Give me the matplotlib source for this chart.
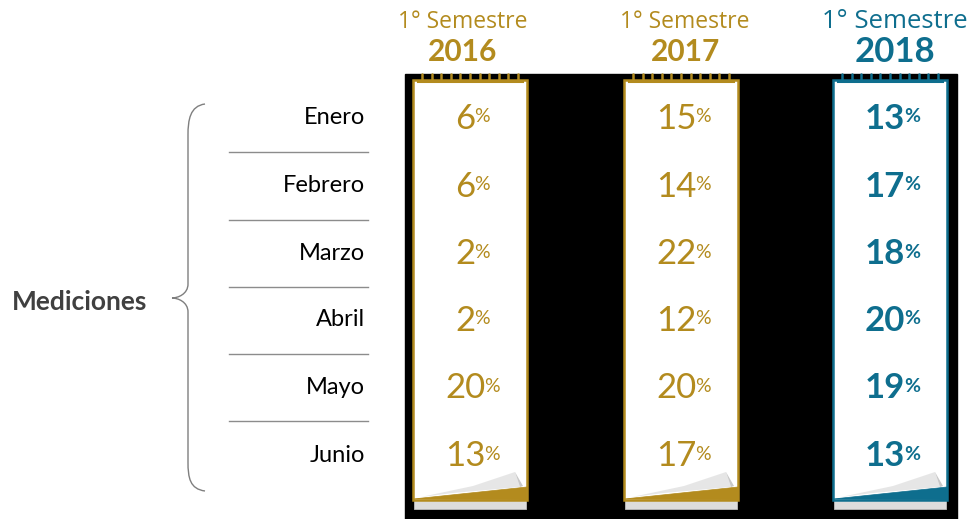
import matplotlib
matplotlib.use("Agg")
import matplotlib.pyplot as plt
from matplotlib.patches import Rectangle, Polygon, PathPatch
from matplotlib.path import Path
import numpy as np

# Datos
meses = ["Enero", "Febrero", "Marzo", "Abril", "Mayo", "Junio"]
anios = ["2016", "2017", "2018"]
valores_2016 = [6, 6, 2, 2, 20, 13]
valores_2017 = [15, 14, 22, 12, 20, 17]
valores_2018 = [13, 17, 18, 20, 19, 13]
valores = [valores_2016, valores_2017, valores_2018]
titulo_grupo = "Mediciones"
subtitulo = "1° Semestre"

# Colores
dorado = "#B38B1E"
azul = "#0E6E8E"
colores = [dorado, dorado, azul]
negritas = [False, False, True]

W, H = 971, 519
fig = plt.figure(figsize=(W / 100, H / 100), dpi=100)
ax = fig.add_axes([0, 0, 1, 1])
ax.set_xlim(0, W)
ax.set_ylim(H, 0)
ax.axis("off")

fuente = "Lato"

# Geometria (pixeles)
filas_y = [118, 186, 253, 320, 387, 455]
centros_x = [470, 681, 890]
desplaz_titulo = [-7, 4, 5]
tam_sub = [16.5, 16.5, 18.5]
tam_anio = [21.5, 21.5, 25]
ancho_hoja = 114
top_hoja, bot_hoja = 80, 500

# Fondo negro detras de las hojas
ax.add_patch(Rectangle((405, 74), 552, H - 74, color="black", zorder=0))

# Etiquetas de meses y separadores
for i, (m, y) in enumerate(zip(meses, filas_y)):
    ax.text(365, y, m, ha="right", va="center", fontsize=17,
            family=fuente, color="black")
    if i < len(meses) - 1:
        ys = (filas_y[i] + filas_y[i + 1]) / 2
        ax.plot([229, 368], [ys, ys], color="#8c8c8c", lw=1)

# Llave
bx, tip_x, tip_y = 188, 172, 298
verts = [(205, 104), (190, 106), (bx, 120), (bx, 135),
         (bx, tip_y - 14),
         (bx, tip_y - 4), (tip_x + 6, tip_y), (tip_x, tip_y),
         (tip_x + 6, tip_y), (bx, tip_y + 4), (bx, tip_y + 14),
         (bx, 462),
         (bx, 478), (190, 489), (205, 491)]
codes = [Path.MOVETO, Path.CURVE4, Path.CURVE4, Path.CURVE4,
         Path.LINETO,
         Path.CURVE4, Path.CURVE4, Path.CURVE4,
         Path.CURVE4, Path.CURVE4, Path.CURVE4,
         Path.LINETO,
         Path.CURVE4, Path.CURVE4, Path.CURVE4]
ax.add_patch(PathPatch(Path(verts, codes), fill=False, ec="#7f7f7f", lw=1))

ax.text(80, 302, titulo_grupo, ha="center", va="center", fontsize=19,
        family=fuente, fontweight="bold", color="#404040")

# Hojas
for k, (cx, anio, col) in enumerate(zip(centros_x, anios, colores)):
    l, r = cx - ancho_hoja / 2, cx + ancho_hoja / 2
    tx = cx + desplaz_titulo[k]
    # encabezado
    ax.text(tx, 22, subtitulo, ha="center", va="center", fontsize=tam_sub[k],
            family="Open Sans", color=col)
    ax.text(tx, 52, anio, ha="center", va="center", fontsize=tam_anio[k],
            family=fuente, fontweight="bold", color=col)
    # tira gris inferior
    ax.add_patch(Rectangle((l + 1, bot_hoja), r - l - 2, 9, fc="#dcdcdc",
                           ec="#bdbdbd", lw=0.6, zorder=1))
    # hoja
    ax.add_patch(Rectangle((l, top_hoja), r - l, bot_hoja - top_hoja,
                           fc="white", ec=col, lw=1.8, zorder=2))
    # esquina doblada
    ax.add_patch(Polygon([(l, bot_hoja - 1), (r, bot_hoja - 13), (r, bot_hoja)],
                         closed=True, fc=col, ec=col, lw=0.5, zorder=3))
    curl = [(l + 8, bot_hoja - 3), (l + 60, bot_hoja - 14), (r - 12, bot_hoja - 28),
            (r - 7, bot_hoja - 13), (l + 40, bot_hoja - 7)]
    ax.add_patch(Polygon(curl, closed=True, fc="#e6e6e6", ec="none", zorder=3))
    ax.add_patch(Polygon([(r - 12, bot_hoja - 28), (r - 4, bot_hoja - 14),
                          (r - 7, bot_hoja - 13)], closed=True,
                         fc="#c8c8c8", ec="none", zorder=3))
    # espiral
    for sx in np.linspace(l + 9, r - 9, 11):
        ax.plot([sx, sx], [top_hoja - 6, top_hoja], color=col, lw=1.8,
                solid_capstyle="round", zorder=4)
    ax.plot([l + 5, r - 5], [top_hoja + 1, top_hoja + 1], color=col, lw=2.2, zorder=4)

fig.canvas.draw()
ren = fig.canvas.get_renderer()

# Valores
for k, (cx, col) in enumerate(zip(centros_x, colores)):
    peso = "bold" if negritas[k] else "normal"
    for v, y in zip(valores[k], filas_y):
        tn = ax.text(0, y + 1, str(v), ha="left", va="center", fontsize=25,
                     family=fuente, fontweight=peso, color=col, zorder=5)
        tp = ax.text(0, y - 1, "%", ha="left", va="center", fontsize=14,
                     family=fuente, fontweight=peso, color=col, zorder=5)
        wn = tn.get_window_extent(ren).width
        wp = tp.get_window_extent(ren).width
        x0 = cx + 3 - (wn + wp) / 2
        tn.set_x(x0)
        tp.set_x(x0 + wn - 1)

fig.savefig("out.png", dpi=100)
